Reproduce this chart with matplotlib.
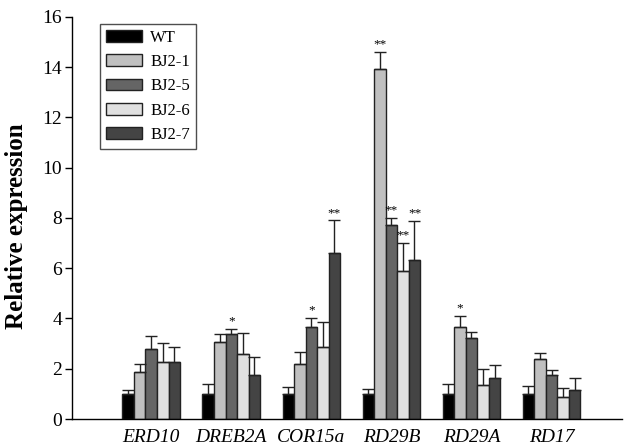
import numpy as np
import matplotlib
matplotlib.use('Agg')
import matplotlib.pyplot as plt

plt.rcParams['font.family'] = ['Liberation Serif', 'DejaVu Serif']

genes = ['ERD10', 'DREB2A', 'COR15a', 'RD29B', 'RD29A', 'RD17']
lines = ['WT', 'BJ2-1', 'BJ2-5', 'BJ2-6', 'BJ2-7']
colors = ['#000000', '#c0c0c0', '#656565', '#e0e0e0', '#444444']

# mean expression per line, one list per line (order follows genes)
wt = [1.0, 1.0, 1.0, 1.0, 1.0, 1.0]
bj2_1 = [1.88, 3.05, 2.19, 13.93, 3.66, 2.38]
bj2_5 = [2.77, 3.37, 3.66, 7.71, 3.21, 1.75]
bj2_6 = [2.26, 2.60, 2.87, 5.89, 1.35, 0.89]
bj2_7 = [2.26, 1.75, 6.60, 6.32, 1.63, 1.15]

# upper error
wt_err = [0.15, 0.41, 0.29, 0.19, 0.38, 0.31]
bj2_1_err = [0.31, 0.32, 0.48, 0.67, 0.45, 0.24]
bj2_5_err = [0.52, 0.20, 0.37, 0.30, 0.27, 0.21]
bj2_6_err = [0.75, 0.81, 1.00, 1.13, 0.65, 0.36]
bj2_7_err = [0.62, 0.72, 1.30, 1.55, 0.51, 0.47]

# significance marks: (gene index, line index, label)
stars = [(1, 2, '*'), (2, 2, '*'), (2, 4, '**'), (3, 1, '**'), (3, 2, '**'),
         (3, 3, '**'), (3, 4, '**'), (4, 1, '*')]

values = [wt, bj2_1, bj2_5, bj2_6, bj2_7]
errs = [wt_err, bj2_1_err, bj2_5_err, bj2_6_err, bj2_7_err]

fig = plt.figure(figsize=(6.25, 4.46), dpi=100)
ax = fig.add_axes([0.1152, 0.0605, 0.88, 0.9015])

x = np.arange(len(genes))
w = 0.144
for i, name in enumerate(lines):
    pos = x + (i - 2) * w
    ax.bar(pos, values[i], w, color=colors[i], edgecolor='#222222', linewidth=1.0,
           label=name, zorder=2)
    ax.errorbar(pos, values[i], yerr=[np.zeros(len(genes)), errs[i]], fmt='none',
                ecolor='#222222', elinewidth=1.0, capsize=4.5, capthick=1.0, zorder=3)

for g, l, s in stars:
    top = values[l][g] + errs[l][g]
    ax.text(x[g] + (l - 2) * w, top + 0.06, s, ha='center', va='bottom', fontsize=9.5)

ax.set_xlim(-0.99, 5.88)
ax.set_ylim(0, 16)
ax.set_yticks(range(0, 17, 2))
ax.set_xticks(x)
ax.set_xticklabels(genes, fontstyle='italic', fontsize=14)
ax.tick_params(axis='x', length=0, pad=7)
ax.tick_params(axis='y', length=5, width=1.0, labelsize=14, direction='out', pad=2)
ax.spines['top'].set_visible(False)
ax.spines['right'].set_visible(False)
ax.spines['left'].set_linewidth(1.0)
ax.spines['bottom'].set_linewidth(1.0)
ax.set_ylabel('Relative expression', fontsize=18, fontweight='bold')
ax.yaxis.set_label_coords(-0.08, 0.48)

leg = ax.legend(loc='upper left', bbox_to_anchor=(0.051, 0.983), borderaxespad=0,
                fontsize=12, frameon=True, fancybox=False, edgecolor='#222222',
                handlelength=2.15, handleheight=0.7, labelspacing=0.5,
                borderpad=0.35, handletextpad=0.5)
leg.get_frame().set_linewidth(1.0)

fig.savefig('out.png', dpi=100)
